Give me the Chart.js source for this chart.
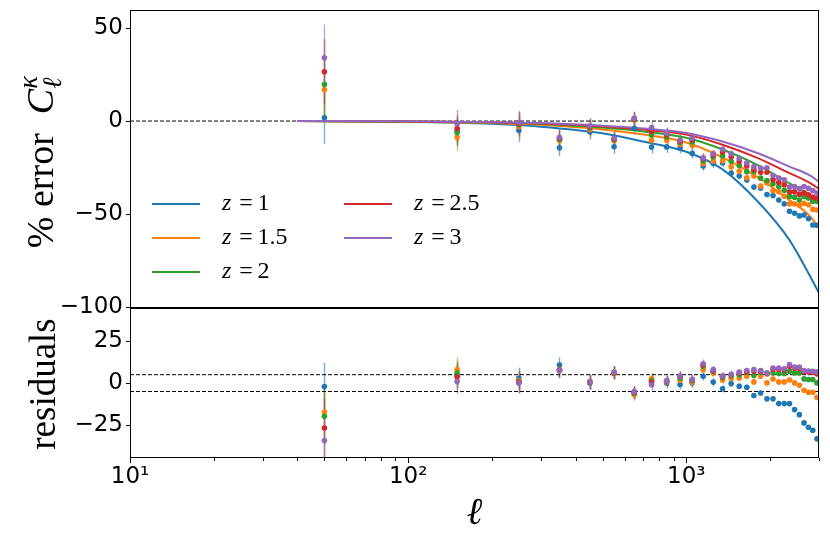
<!DOCTYPE html>
<html><head><meta charset="utf-8">
<script src="https://cdn.jsdelivr.net/npm/chart.js@4"></script>
<style>
html,body{margin:0;padding:0;background:#fff;}
#wrap{position:relative;width:830px;height:539px;overflow:hidden;background:#fff;}
#c1{position:absolute;left:0;top:0;}
#c2{position:absolute;left:0;top:300px;}
</style></head><body>
<div id="wrap">
<canvas id="c1" width="830" height="320"></canvas>
<canvas id="c2" width="830" height="239"></canvas>
</div>
<script>
// ---------------- data ----------------
const ell = [50,150,250,350,450,550,650,750,850,950,1050,1150,1250,1350,1450,1550,1650,1750,1850,1950,2050,2150,2250,2350,2450,2550,2650,2750,2850,2950];
const zLabels = ['1','1.5','2','2.5','3'];

// model curves (lines)
const lineEll = [40,100,200,300,500,700,1000,1350,1800,2350,2800,3000];
const modelZ1  = [0,-0.4,-1.5,-3.0,-6.6,-11.0,-16.5,-26.0,-43.0,-64.0,-84.0,-92.5];
const modelZ15 = [0,-0.3,-1.0,-2.0,-4.5,-7.2,-11.5,-19.5,-30.0,-42.5,-51.5,-57.5];
const modelZ2  = [0,-0.2,-0.8,-1.6,-3.5,-5.6,-9.0,-15.3,-23.5,-33.5,-40.0,-43.5];
const modelZ25 = [0,-0.2,-0.7,-1.3,-2.9,-4.6,-7.3,-12.7,-19.8,-28.0,-33.5,-36.5];
const modelZ3  = [0,-0.1,-0.6,-1.1,-2.5,-4.0,-6.4,-11.0,-17.2,-24.5,-29.5,-32.7];

// measured % error points
const pctZ1  = [1.8,-5.4,-5.0,-14.4,-5.7,-13.8,-3.9,-14.0,-13.9,-14.5,-17.4,-24.2,-22.8,-22.5,-28.0,-29.6,-31.7,-35.5,-36.0,-39.5,-40.0,-42.5,-44.5,-48.5,-49.6,-51.0,-50.5,-52.5,-55.9,-56.0];
const pctZ15 = [16.8,-8.7,-3.0,-10.5,-4.5,-10.6,0.5,-10.4,-10.3,-12.5,-13.1,-22.8,-21.5,-21.4,-24.5,-27.0,-30.5,-29.5,-35.0,-33.3,-37.5,-38.0,-40.4,-44.5,-44.6,-45.2,-44.2,-45.0,-47.5,-47.8];
const pctZ2  = [19.7,-6.2,-2.0,-9.8,-3.7,-10.0,0.9,-7.5,-8.6,-11.5,-11.3,-21.5,-19.3,-18.8,-21.6,-23.9,-27.2,-27.1,-30.7,-32.0,-33.7,-35.2,-37.2,-40.5,-41.0,-42.5,-40.5,-41.4,-43.1,-43.1];
const pctZ25 = [26.5,-4.0,-1.4,-9.3,-3.1,-9.5,1.3,-5.5,-7.3,-10.8,-10.0,-20.2,-18.2,-16.7,-19.2,-21.7,-24.1,-26.0,-27.5,-27.5,-31.5,-33.0,-34.2,-38.0,-38.0,-39.3,-38.6,-39.6,-40.9,-41.5];
const pctZ3  = [34.0,-1.4,-0.8,-8.8,-2.7,-9.3,1.5,-3.5,-6.6,-10.2,-9.2,-19.8,-17.6,-15.2,-17.6,-20.1,-22.5,-24.5,-25.3,-25.1,-29.3,-30.6,-31.6,-35.5,-35.2,-36.3,-35.2,-36.2,-37.4,-38.7];

// residuals
const resZ1  = [-2.1,4.5,2.8,10.8,0.1,6.2,-6.0,2.0,0.0,-0.9,0.1,4.1,0.6,-3.4,-0.3,-1.9,-2.5,-7.4,-5.9,-9.4,-9.4,-12.2,-12.2,-12.2,-15.8,-18.8,-23.7,-26.3,-28.1,-33.2];
const resZ15 = [-17.2,8.0,1.5,8.0,0.7,5.5,-7.0,2.5,0.8,1.7,0.5,8.0,6.0,1.8,2.7,3.0,4.0,0.7,4.0,0.1,2.4,0.7,0.7,1.8,0.1,-1.3,-4.3,-5.5,-5.5,-8.5];
const resZ2  = [-19.8,6.0,0.8,7.8,0.7,6.0,-6.0,1.2,1.2,3.1,1.5,10.0,7.0,3.5,4.5,5.0,6.4,4.5,6.4,6.0,6.0,5.7,5.7,7.0,6.0,6.0,2.5,2.1,2.1,0.1];
const resZ25 = [-26.7,3.6,0.4,7.6,0.6,6.2,-5.5,0.4,1.3,4.0,2.0,10.7,7.2,4.0,5.0,6.0,6.8,7.0,7.0,5.5,8.2,8.2,7.8,10.0,8.8,8.8,6.8,6.6,6.4,5.5];
const resZ3  = [-34.2,1.0,0.0,7.4,0.6,6.4,-5.1,-1.0,1.3,4.2,2.2,11.5,8.0,4.2,5.3,6.5,7.5,8.0,7.5,6.0,9.0,9.0,8.5,11.0,9.6,9.6,7.4,7.2,7.0,6.7];

// 1-sigma error bars
const errEll = [14.2,7.4,6.3,4.5,4.3,3.8,3.6,3.4,3.2,3.0,2.8,2.6,2.4,2.2,2.0,1.8,1.6,1.5,1.4,1.3,1.2,1.1,1.0,1.0,0.9,0.9,0.8,0.8,0.7,0.7];
const err50  = [14.2,16.5,17.0,17.5,17.8];

// axes
const topTicks = [-100,-50,0,50];
const resTicks = [-25,0,25];
const xMajor = [10,100,1000];
const refTop = [0];
const refRes = [5,-5];

// ---------------- build ----------------
const colors = ['#1f77b4','#ff7f0e','#2ca02c','#d62728','#9467bd'];
const models = [modelZ1,modelZ15,modelZ2,modelZ25,modelZ3];
const pcts = [pctZ1,pctZ15,pctZ2,pctZ25,pctZ3];
const ress = [resZ1,resZ15,resZ2,resZ25,resZ3];
const errs = err50.map(e0 => [e0].concat(errEll.slice(1)));
const pts = (xs, ys) => xs.map((x,i)=>({x:x, y:ys[i]}));
const fmt = v => v<0 ? '\u2212'+Math.abs(v) : String(v);
const SUP = {1:'\u00b9',2:'\u00b2',3:'\u00b3'};
const xTickVals = [];
for (let d=10; d<=1000; d*=10) for (let k=1;k<=9;k++){ const v=k*d; if (v<=3000) xTickVals.push(v); }

function hexA(h,a){const n=parseInt(h.slice(1),16);return `rgba(${n>>16&255},${n>>8&255},${n&255},${a})`;}

function errPlugin(series){
  return {id:'errbars', beforeDatasetsDraw(chart){
    const {ctx, chartArea:a, scales:{x,y}} = chart;
    ctx.save(); ctx.beginPath(); ctx.rect(a.left,a.top,a.right-a.left,a.bottom-a.top); ctx.clip();
    series.forEach(s=>{
      ctx.strokeStyle = hexA(s.color,0.6); ctx.lineWidth = 1.4;
      s.x.forEach((xv,i)=>{
        const px = Math.round(x.getPixelForValue(xv))+0.5;
        ctx.beginPath();
        ctx.moveTo(px, y.getPixelForValue(s.y[i]-s.e[i]));
        ctx.lineTo(px, y.getPixelForValue(s.y[i]+s.e[i]));
        ctx.stroke();
      });
    });
    ctx.restore();
  }};
}
const framePlugin = {id:'frame', afterDraw(chart){
  const {ctx, chartArea:a} = chart;
  ctx.save(); ctx.strokeStyle='#000'; ctx.lineWidth=1;
  ctx.strokeRect(Math.round(a.left)+0.5, Math.round(a.top)+0.5, Math.round(a.right-a.left)-1, Math.round(a.bottom-a.top)-1);
  ctx.restore();
}};

const SERIF = '"Liberation Serif", "DejaVu Serif", serif';
function drawRich(ctx, parts, cx, cy, rot, size){
  ctx.save(); ctx.translate(cx, cy); ctx.rotate(rot); ctx.textBaseline='alphabetic'; ctx.fillStyle='#000';
  const f = (p)=> (p.it?'italic ':'') + ((p.sub||p.sup)? size*0.7 : size) + 'px ' + SERIF;
  let w = 0; const widths=[];
  parts.forEach(p=>{ ctx.font=f(p); const ww=ctx.measureText(p.t).width; widths.push(ww); if(!p.stack) w+=ww; });
  let x = -w/2; let last=0;
  parts.forEach((p,i)=>{
    ctx.font=f(p);
    let dy = p.sub? size*0.22 : (p.sup? -size*0.42 : 0);
    let xx = p.stack ? last : x;
    ctx.fillText(p.t, xx, dy);
    if(!p.stack){ last = x; x += widths[i]; }
  });
  ctx.restore();
}

const topLabels = {id:'topLabels', afterDraw(chart){
  const ctx = chart.ctx; const a = chart.chartArea;
  const pos = [[a.left+22,204],[a.left+22,238],[a.left+22,272],[a.left+214,204],[a.left+214,238]];
  zLabels.forEach((z,i)=>{
    const [lx,ly] = pos[i];
    ctx.save(); ctx.strokeStyle=colors[i]; ctx.lineWidth=2; ctx.beginPath(); ctx.moveTo(lx,ly); ctx.lineTo(lx+48,ly); ctx.stroke();
    ctx.fillStyle='#000'; ctx.textBaseline='middle';
    ctx.font='italic 24px '+SERIF; ctx.fillText('z', lx+70, ly);
    const wz = ctx.measureText('z').width;
    ctx.font='24px '+SERIF; ctx.fillText('\u2009=\u2009'+z, lx+70+wz+3, ly);
    ctx.restore();
  });
  drawRich(ctx, [{t:'% error  '},{t:'C',it:true},{t:'\u2113',it:true,sub:true},{t:'\u03ba',it:true,sup:true,stack:true}], 53, 163, -Math.PI/2, 38);
}};
const botLabels = {id:'botLabels', afterDraw(chart){
  const ctx = chart.ctx; const a = chart.chartArea;
  drawRich(ctx, [{t:'residuals'}], 55, 84, -Math.PI/2, 37);
  drawRich(ctx, [{t:'\u2113',it:true}], (a.left+a.right)/2, 224, 0, 38);
  const x = chart.scales.x;
  ctx.save(); ctx.strokeStyle='#000'; ctx.lineWidth=1;
  xTickVals.forEach(v=>{
    const px = Math.round(x.getPixelForValue(v))+0.5; const L = xMajor.includes(v)?5:3;
    ctx.beginPath(); ctx.moveTo(px, a.bottom); ctx.lineTo(px, a.bottom+L); ctx.stroke();
  });
  ctx.restore();
}};

const tickFont = {family:'"DejaVu Sans", sans-serif', size:23};
const zeroPad = s => { s.paddingTop=0; s.paddingBottom=0; s.paddingLeft=0; s.paddingRight=0; };
function yScale(min,max,ticks){
  return {min:min, max:max,
    afterBuildTicks: s => { s.ticks = ticks.map(v=>({value:v})); },
    afterFit: s => { s.width = 130; zeroPad(s); },
    ticks:{font:tickFont, color:'#000', padding:3, callback: v=>fmt(v)},
    grid:{display:true, drawOnChartArea:false, drawTicks:true, tickLength:4, color:'#000', lineWidth:1},
    border:{display:false}};
}

const topSets = [];
refTop.forEach(r=>topSets.push({data:[{x:10,y:r},{x:3000,y:r}], showLine:true, borderColor:'#000', borderWidth:1, borderDash:[4,2], pointRadius:0, order:30}));
models.forEach((m,i)=>topSets.push({data:pts(lineEll,m), showLine:true, borderColor:colors[i], borderWidth:2, pointRadius:0, cubicInterpolationMode:'monotone', order:20-i}));
pcts.forEach((p,i)=>topSets.push({data:pts(ell,p), showLine:false, backgroundColor:colors[i], borderWidth:0, pointRadius:2.8, order:5-i}));

new Chart(document.getElementById('c1'), {
  type:'scatter',
  data:{datasets:topSets},
  options:{responsive:false, animation:false, events:[],
    layout:{padding:{left:0,right:11,top:10,bottom:12}},
    plugins:{legend:{display:false}, tooltip:{enabled:false}},
    scales:{
      x:{type:'logarithmic', min:10, max:3000, display:false},
      y:yScale(-100.5, 59.7, topTicks)
    }},
  plugins:[errPlugin(pcts.map((p,i)=>({x:ell,y:p,e:errs[i],color:colors[i]}))), framePlugin, topLabels]
});

const botSets = [];
refRes.forEach(r=>botSets.push({data:[{x:10,y:r},{x:3000,y:r}], showLine:true, borderColor:'#000', borderWidth:1, borderDash:[4,2], pointRadius:0, order:30}));
ress.forEach((p,i)=>botSets.push({data:pts(ell,p), showLine:false, backgroundColor:colors[i], borderWidth:0, pointRadius:2.8, order:5-i}));

new Chart(document.getElementById('c2'), {
  type:'scatter',
  data:{datasets:botSets},
  options:{responsive:false, animation:false, events:[],
    layout:{padding:{left:0,right:11,top:8,bottom:0}},
    plugins:{legend:{display:false}, tooltip:{enabled:false}},
    scales:{
      x:{type:'logarithmic', min:10, max:3000,
        afterBuildTicks: s => { s.ticks = xTickVals.map(v=>({value:v, major: xMajor.includes(v)})); },
        afterFit: s => { s.height = 81; zeroPad(s); },
        ticks:{font:tickFont, color:'#000', padding:5, autoSkip:false, maxRotation:0,
          callback: v => xMajor.includes(v) ? '10'+SUP[Math.round(Math.log10(v))] : ''},
        grid:{display:true, drawOnChartArea:false, drawTicks:false},
        border:{display:false}},
      y:yScale(-44.6, 44.7, resTicks)
    }},
  plugins:[errPlugin(ress.map((p,i)=>({x:ell,y:p,e:errs[i],color:colors[i]}))), framePlugin, botLabels]
});
</script>
</body></html>
